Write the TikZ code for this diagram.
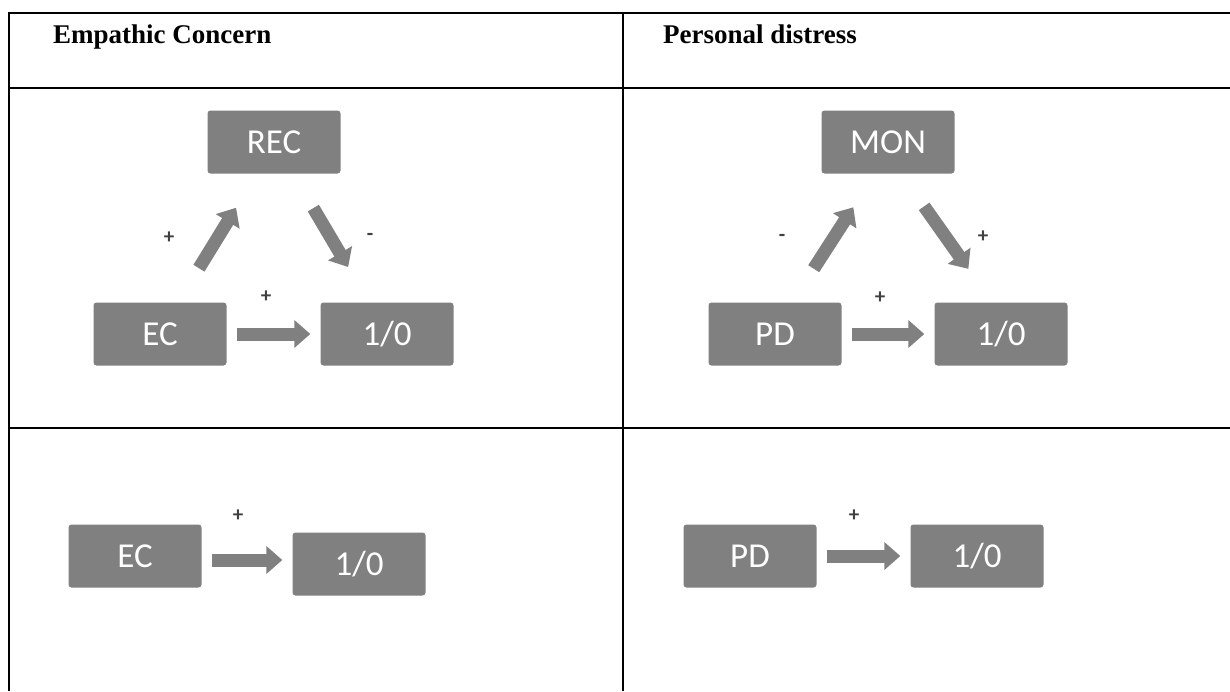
\documentclass[tikz,border=0pt]{standalone}
\usepackage{fontspec}
\setmainfont{Liberation Serif}
\newfontfamily\boxfont{Carlito}
\usetikzlibrary{arrows.meta}

\tikzset{
  box/.style={fill=gray, rounded corners=3pt, minimum width=133pt, minimum height=63pt,
              text=white, inner sep=0pt, font=\boxfont\fontsize{35}{35}\selectfont},
  sign/.style={text=black!75, inner sep=0pt, font=\boxfont\bfseries\fontsize{21}{21}\selectfont},
  heading/.style={anchor=base west, inner sep=0pt, font=\bfseries\fontsize{27}{27}\selectfont},
  flow/.style={draw=gray, line width=13pt, -{Triangle[length=16pt, width=27pt]}},
  rule/.style={line width=2pt}
}

\begin{document}
\begin{tikzpicture}[x=1pt, y=-1pt]
  \useasboundingbox (0,0) rectangle (1230,691);
  \fill[white] (0,0) rectangle (1230,691);

  % table
  \draw[rule] (9,13) -- (1230,13);
  \draw[rule] (9,88) -- (1230,88);
  \draw[rule] (9,428) -- (1230,428);
  \draw[rule] (9,12) -- (9,691);
  \draw[rule] (623,12) -- (623,691);

  \node[heading] (hec) at (53,43) {Empathic Concern};
  \node[heading] (hpd) at (663,43) {Personal distress};

  % empathic concern, with mediator
  \node[box] (rec) at (274,142) {REC};
  \node[box] (ec) at (160,334) {EC};
  \node[box] (oute) at (387,334) {1/0};
  \draw[flow, shorten <=40pt, shorten >=40pt] ([xshift=18pt]ec.north) -- ([xshift=-17pt]rec.south);
  \draw[flow, shorten <=40pt, shorten >=41pt] ([xshift=19pt]rec.south) -- ([xshift=-18pt]oute.north);
  \draw[flow, shorten <=10pt, shorten >=10pt] (ec.east) -- (oute.west);
  \node[sign] (s1) at (169,238) {+};
  \node[sign] (s2) at (370,237) {-};
  \node[sign] (s3) at (266,297) {+};

  % personal distress, with mediator
  \node[box] (mon) at (888,142) {MON};
  \node[box] (pd) at (775,334) {PD};
  \node[box] (outp) at (1001,334) {1/0};
  \draw[flow, shorten <=40pt, shorten >=40pt] ([xshift=17pt]pd.north) -- ([xshift=-13pt]mon.south);
  \draw[flow, shorten <=40pt, shorten >=41pt] ([xshift=13pt]mon.south) -- ([xshift=-9pt]outp.north);
  \draw[flow, shorten <=10pt, shorten >=10pt] (pd.east) -- (outp.west);
  \node[sign] (s4) at (782,238) {-};
  \node[sign] (s5) at (983,237) {+};
  \node[sign] (s6) at (880,298) {+};

  % direct paths only
  \node[box] (ec2) at (135,556) {EC};
  \node[box] (oute2) at (359,564) {1/0};
  \draw[flow, shorten <=10pt, shorten >=10pt] ([yshift=-4pt]ec2.east) -- ([yshift=4pt]oute2.west);
  \node[sign] (s7) at (238,516) {+};

  \node[box] (pd2) at (750,556) {PD};
  \node[box] (outp2) at (977,556) {1/0};
  \draw[flow, shorten <=10pt, shorten >=10pt] (pd2.east) -- (outp2.west);
  \node[sign] (s8) at (854,516) {+};
\end{tikzpicture}
\end{document}
